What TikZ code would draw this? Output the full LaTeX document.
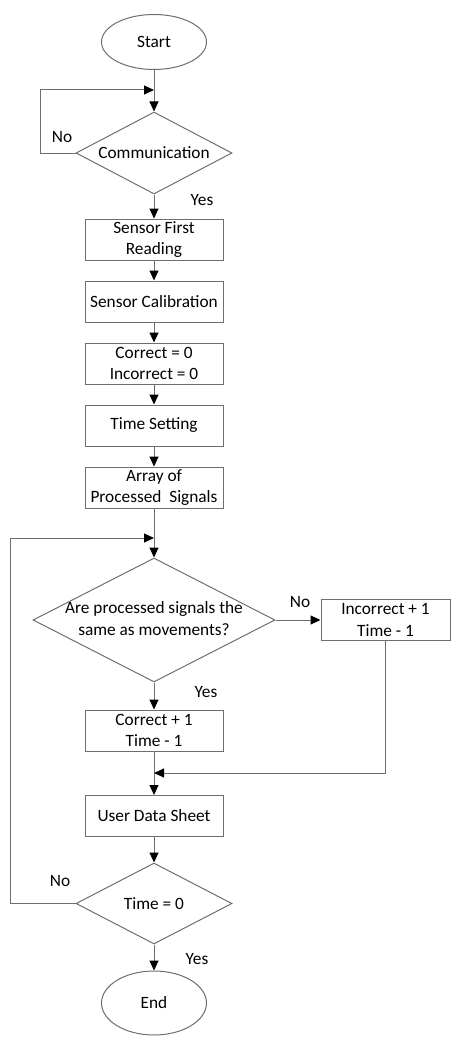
\documentclass[tikz,border=0pt]{standalone}
\usepackage{fontspec}
\setmainfont{Carlito}
\usetikzlibrary{shapes.geometric,arrows.meta}
\definecolor{linegray}{RGB}{110,110,110}
\begin{document}
\begin{tikzpicture}[x=1pt,y=-1pt,
  every node/.style={font=\fontsize{17.3}{21.7}\selectfont},
  procbox/.style={draw=linegray,line width=1pt,rectangle,minimum width=138pt,minimum height=41pt,inner sep=0pt,align=center},
  termnode/.style={draw=linegray,line width=1pt,ellipse,minimum width=105pt,minimum height=55pt,inner sep=0pt},
  decision/.style={draw=linegray,line width=1pt,diamond,inner sep=0pt},
  flow/.style={draw=linegray,line width=1pt,-{Triangle[length=10pt,width=9pt,fill=black,color=black]}},
  plain/.style={draw=linegray,line width=1pt},
  lbl/.style={inner sep=0pt}]
\useasboundingbox (0,0) rectangle (451,1038);
\node[termnode] (start) at (154,42) {Start};
\node[decision,minimum width=156pt,minimum height=82pt,label={center:Communication}] (comm) at (154,153) {};
\node[procbox] (s1) at (154,239.5) {Sensor First\\Reading};
\node[procbox] (s2) at (154,301.5) {Sensor Calibration};
\node[procbox] (s3) at (154,363.5) {Correct = 0\\Incorrect = 0};
\node[procbox] (s4) at (154,425.5) {Time Setting};
\node[procbox] (s5) at (154,487.5) {Array of\\Processed~ Signals};
\node[decision,minimum width=242pt,minimum height=124pt,label={center:\begin{tabular}{@{}c@{}}Are processed signals the\\same as movements?\end{tabular}}] (q) at (154,620) {};
\node[procbox,minimum width=129pt] (inc) at (385.5,620) {Incorrect + 1\\Time - 1};
\node[procbox] (cor) at (154,730.5) {Correct + 1\\Time - 1};
\node[procbox] (uds) at (154,816) {User Data Sheet};
\node[decision,minimum width=156pt,minimum height=81pt,label={center:Time = 0}] (t0) at (154,903.5) {};
\node[termnode,minimum height=64pt] (endn) at (154,1003) {End};
\coordinate (j1) at (154,90);
\coordinate (j2) at (154,538);
\coordinate (j3) at (154,773);
\coordinate (l1) at (40,90);
\coordinate (l2) at (10,538);
% main flow
\draw[flow] (start) -- (comm.north);
\draw[flow] (comm.south) -- (s1);
\draw[flow] (s1) -- (s2);
\draw[flow] (s2) -- (s3);
\draw[flow] (s3) -- (s4);
\draw[flow] (s4) -- (s5);
\draw[flow] (s5) -- (q.north);
\draw[flow] (q.south) -- (cor);
\draw[flow] (q.east) -- (inc);
\draw[flow] (cor) -- (uds);
\draw[flow] (uds) -- (t0.north);
\draw[flow] (t0.south) -- (endn);
% loops
\draw[flow] (comm.west) -| (l1) -- (j1);
\draw[flow] (t0.west) -| (l2) -- (j2);
\draw[flow] (inc.south) |- (j3);
% labels
\node[lbl] at (62,137) {No};
\node[lbl] at (202,200) {Yes};
\node[lbl] at (300,602) {No};
\node[lbl] at (206,692) {Yes};
\node[lbl] at (60,881) {No};
\node[lbl] at (197,959) {Yes};
\end{tikzpicture}
\end{document}
